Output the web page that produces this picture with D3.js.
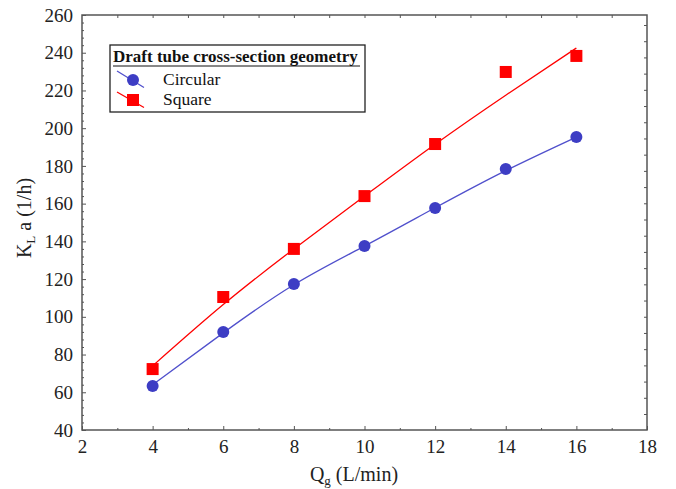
<html>
<head>
<script src="https://d3js.org/d3.v7.min.js"></script>
<style>
body { margin: 0; background: white; }
text { font-family: "Liberation Serif", "DejaVu Serif", serif; }
</style>
</head>
<body>
<svg width="676" height="489"></svg>
<script>
// data
var qg = [4, 6, 8, 10, 12, 14, 16];
var circular = [63.3, 92, 117.4, 137.5, 157.7, 178.3, 195.3];
var square = [72.3, 110.5, 136, 164, 191.6, 229.8, 238.3];
// fitted curves
var circularFit = [64, 91.5, 117, 137.5, 157.8, 177.5, 195.3];
var squareFit = [74, 106.5, 136, 164, 191.5, 217.5, 242.5];
var xTicks = [2, 4, 6, 8, 10, 12, 14, 16, 18];
var yTicks = [40, 60, 80, 100, 120, 140, 160, 180, 200, 220, 240, 260];

var svg = d3.select("svg");
var pLeft = 82, pRight = 647, pTop = 15, pBottom = 430;

var x = d3.scaleLinear().domain([2, 18]).range([pLeft, pRight]);
var y = d3.scaleLinear().domain([40, 260]).range([pBottom, pTop]);

var blue = "#3d3dc4", red = "#ff0000";

// frame
svg.append("rect")
  .attr("x", pLeft).attr("y", pTop)
  .attr("width", pRight - pLeft).attr("height", pBottom - pTop)
  .attr("fill", "none").attr("stroke", "#555").attr("stroke-width", 1.5);

// bottom axis, ticks inward
var gx = svg.append("g").attr("transform", "translate(0," + pBottom + ")")
  .call(d3.axisBottom(x).tickValues(xTicks).tickSize(-4).tickPadding(10).tickFormat(d3.format("d")));
gx.select(".domain").remove();
gx.selectAll("line").attr("stroke", "#555");
gx.selectAll("text").attr("font-size", 19).attr("fill", "#222");
svg.append("g").attr("transform", "translate(0," + pBottom + ")")
  .call(d3.axisBottom(x).tickValues(d3.range(3, 18, 2)).tickSize(-2).tickFormat(""))
  .call(function(g) { g.select(".domain").remove(); g.selectAll("line").attr("stroke", "#555"); });

// top axis minor ticks
svg.append("g").attr("transform", "translate(0," + pTop + ")")
  .call(d3.axisTop(x).tickValues(d3.range(3, 18, 1)).tickSize(-3).tickFormat(""))
  .call(function(g) { g.select(".domain").remove(); g.selectAll("line").attr("stroke", "#555"); });

// left axis
var gy = svg.append("g").attr("transform", "translate(" + pLeft + ",0)")
  .call(d3.axisLeft(y).tickValues(yTicks).tickSize(-4).tickPadding(9));
gy.select(".domain").remove();
gy.selectAll("line").attr("stroke", "#555");
gy.selectAll("text").attr("font-size", 19).attr("fill", "#222");
svg.append("g").attr("transform", "translate(" + pLeft + ",0)")
  .call(d3.axisLeft(y).tickValues(d3.range(44, 260, 4).filter(function(v) { return v % 20 != 0; })).tickSize(-2).tickFormat(""))
  .call(function(g) { g.select(".domain").remove(); g.selectAll("line").attr("stroke", "#555"); });

// right axis minor ticks (own spacing)
var yR = d3.scaleLinear().domain([0, 24]).range([414, 25]);
svg.append("g").attr("transform", "translate(" + pRight + ",0)")
  .call(d3.axisRight(yR).tickValues(d3.range(0, 25, 1)).tickSize(-3).tickFormat(""))
  .call(function(g) { g.select(".domain").remove(); g.selectAll("line").attr("stroke", "#555"); });

// fit curves
var line = d3.line().curve(d3.curveNatural)
  .x(function(d) { return x(d[0]); })
  .y(function(d) { return y(d[1]); });

svg.append("path").datum(d3.zip(qg, circularFit))
  .attr("d", line).attr("fill", "none").attr("stroke", "#5050cc").attr("stroke-width", 1.3);
svg.append("path").datum(d3.zip(qg, squareFit))
  .attr("d", line).attr("fill", "none").attr("stroke", red).attr("stroke-width", 1.3);

// points
svg.append("g").selectAll("circle").data(d3.zip(qg, circular)).enter().append("circle")
  .attr("cx", function(d) { return x(d[0]); })
  .attr("cy", function(d) { return y(d[1]); })
  .attr("r", 6).attr("fill", blue);

svg.append("g").selectAll("rect").data(d3.zip(qg, square)).enter().append("rect")
  .attr("x", function(d) { return x(d[0]) - 6; })
  .attr("y", function(d) { return y(d[1]) - 6; })
  .attr("width", 12).attr("height", 12).attr("fill", red);

// legend
var lg = svg.append("g");
lg.append("rect").attr("x", 110).attr("y", 45).attr("width", 255).attr("height", 67)
  .attr("fill", "white").attr("stroke", "#222").attr("stroke-width", 1.3);
lg.append("text").attr("x", 113).attr("y", 62).attr("font-size", 17).attr("font-weight", "bold")
  .attr("fill", "#111").text("Draft tube cross-section geometry");
lg.append("line").attr("x1", 113).attr("x2", 360).attr("y1", 66).attr("y2", 66)
  .attr("stroke", "#111").attr("stroke-width", 1);
lg.append("line").attr("x1", 117).attr("y1", 71).attr("x2", 144).attr("y2", 87.5)
  .attr("stroke", "#5050cc").attr("stroke-width", 1.3);
lg.append("circle").attr("cx", 133).attr("cy", 80).attr("r", 6).attr("fill", blue);
lg.append("text").attr("x", 163).attr("y", 85).attr("font-size", 17.5).attr("fill", "#111").text("Circular");
lg.append("line").attr("x1", 117).attr("y1", 92).attr("x2", 144).attr("y2", 107.5)
  .attr("stroke", red).attr("stroke-width", 1.3);
lg.append("rect").attr("x", 127).attr("y", 94).attr("width", 12).attr("height", 12).attr("fill", red);
lg.append("text").attr("x", 163).attr("y", 105).attr("font-size", 17.5).attr("fill", "#111").text("Square");

// axis titles
var xt = svg.append("text").attr("x", 354).attr("y", 481).attr("text-anchor", "middle")
  .attr("font-size", 20).attr("fill", "#222");
xt.append("tspan").text("Q");
xt.append("tspan").attr("dy", 4).attr("font-size", 13).text("g");
xt.append("tspan").attr("dy", -4).text(" (L/min)");

var yt = svg.append("text").attr("transform", "translate(31,218) rotate(-90)").attr("text-anchor", "middle")
  .attr("font-size", 20).attr("fill", "#222");
yt.append("tspan").text("K");
yt.append("tspan").attr("dy", 4).attr("font-size", 13).text("L");
yt.append("tspan").attr("dy", -4).text(" a (1/h)");
</script>
</body>
</html>
